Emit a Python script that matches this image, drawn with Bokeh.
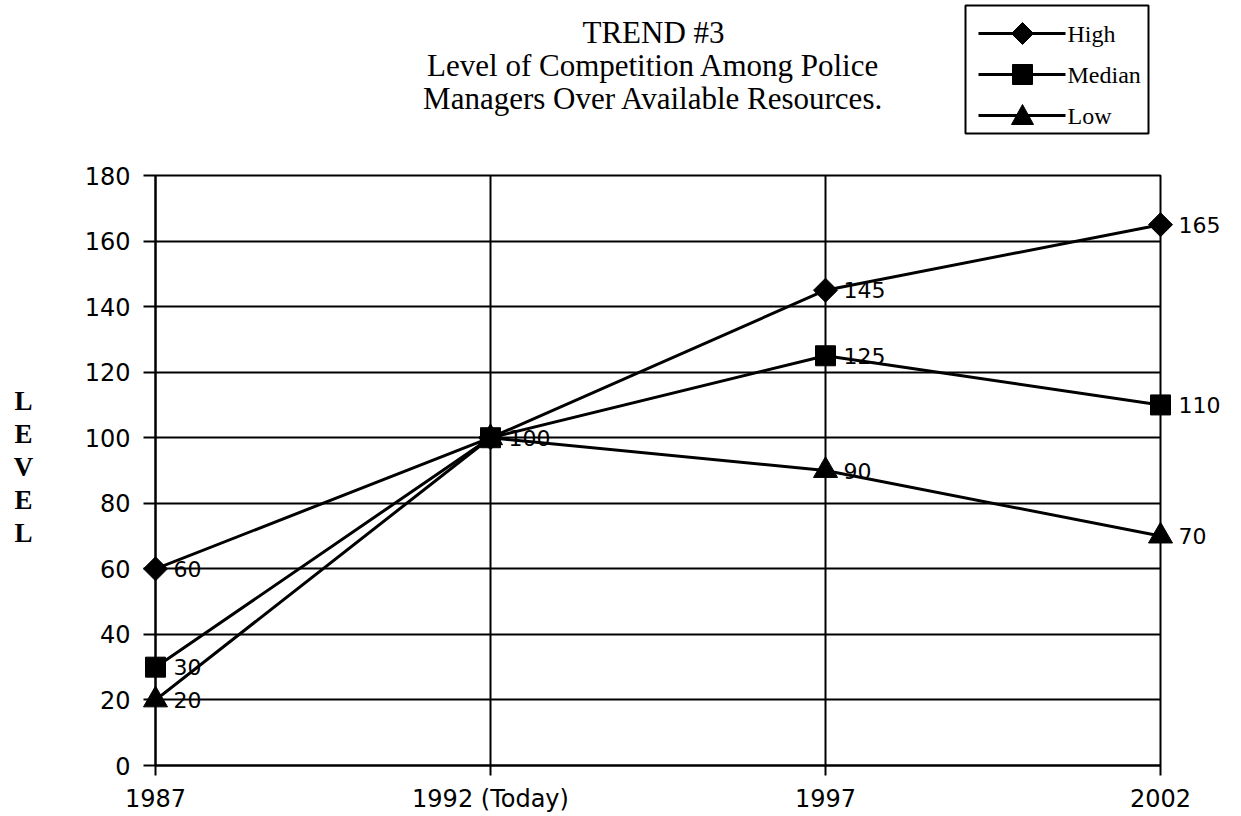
import math
from bokeh.plotting import figure
from bokeh.models import Range1d, FixedTicker, ColumnDataSource
from bokeh.core.properties import value
from bokeh.embed import file_html
from bokeh.resources import INLINE

categories = ["1987", "1992 (Today)", "1997", "2002"]
high = [60, 100, 145, 165]
median = [30, 100, 125, 110]
low = [20, 100, 90, 70]
high_labels = ["60", "100", "145", "165"]
median_labels = ["30", "", "125", "110"]
low_labels = ["20", "", "90", "70"]
y_ticks = list(range(0, 181, 20))
series_names = ["High", "Median", "Low"]
title_lines = ["TREND #3", "Level of Competition Among Police", "Managers Over Available Resources."]
ylabel_letters = ["L", "E", "V", "E", "L"]

W, H = 1241, 816
L_, R_, T_, B_ = 155, 81, 175, 51
xs = list(range(len(categories)))
YMAX = 180
fw = W - L_ - R_
fh = H - T_ - B_

p = figure(width=W, height=H, output_backend="svg", toolbar_location=None,
           x_range=Range1d(0, len(categories) - 1), y_range=Range1d(0, YMAX),
           min_border_left=L_, min_border_right=R_, min_border_top=T_, min_border_bottom=B_)
p.background_fill_color = "white"
p.border_fill_color = "white"
p.outline_line_color = "black"
p.outline_line_width = 2

def dx(px):  # page px -> data x (for free-standing decorations)
    return (px - L_) / fw * (len(categories) - 1)
def dy(py):  # page px -> data y
    return (H - B_ - py) / fh * YMAX

for ax in (p.xaxis[0], p.yaxis[0]):
    ax.axis_line_width = 2
    ax.axis_line_color = "black"
    ax.major_tick_line_width = 2
    ax.major_tick_line_color = "black"
    ax.major_tick_in = 0
    ax.minor_tick_line_color = None
    ax.major_label_text_font = "DejaVu Sans"
    ax.major_label_text_font_size = "24px"
    ax.major_label_text_color = "black"

p.yaxis.ticker = FixedTicker(ticks=y_ticks)
p.yaxis.major_tick_out = 12
p.yaxis.major_label_standoff = 13
p.xaxis.ticker = FixedTicker(ticks=xs)
p.xaxis.major_label_overrides = {i: c for i, c in enumerate(categories)}
p.xaxis.major_tick_out = 10
p.xaxis.major_label_standoff = 9

p.ygrid.ticker = FixedTicker(ticks=y_ticks)
p.xgrid.ticker = FixedTicker(ticks=xs)
for g in (p.xgrid[0], p.ygrid[0]):
    g.grid_line_color = "black"
    g.grid_line_width = 2
    g.grid_line_alpha = 1.0

styles = [("square", 17, math.pi / 4), ("square", 20, 0.0), ("triangle", 24, 0.0)]
for vals, labs, (mk, sz, ang) in zip([high, median, low],
                                      [high_labels, median_labels, low_labels], styles):
    src = ColumnDataSource(dict(x=xs, y=vals, t=labs))
    p.line("x", "y", source=src, line_color="black", line_width=3)
    p.scatter("x", "y", source=src, marker=mk, size=sz, angle=ang, fill_color="black",
              line_color="black", level="overlay")
    p.text("x", "y", text="t", source=src, x_offset=18, text_baseline="middle",
           text_font=value("DejaVu Sans"), text_font_size="22px", text_color="black",
           level="overlay")

# legend box (decoration placed in page pixels)
p.quad(left=[dx(965)], right=[dx(1148)], top=[dy(5)], bottom=[dy(133)],
       fill_color="white", line_color="black", line_width=2, level="overlay")
item_y = [33, 74, 115]
legend_shapes = [
    [(-11, 0), (0, -11), (11, 0), (0, 11)],          # diamond
    [(-10, -10), (10, -10), (10, 10), (-10, 10)],    # square
    [(-11, 9), (0, -11), (11, 9)],                   # triangle
]
cx = 1022
for name, iy, shape in zip(series_names, item_y, legend_shapes):
    p.segment(x0=[dx(978)], y0=[dy(iy)], x1=[dx(1065)], y1=[dy(iy)],
              line_color="black", line_width=3, level="overlay")
    p.patch(x=[dx(cx + ox) for ox, oy in shape], y=[dy(iy + oy) for ox, oy in shape],
            fill_color="black", line_color="black", level="overlay")
    p.text(x=[dx(1067)], y=[dy(iy)], text=[name], text_baseline="middle",
           text_font=value("Liberation Serif"), text_font_size="24px",
           text_color="black", level="overlay")

title_base = [32, 65, 98]
p.text(x=[dx(653)] * 3, y=[dy(b) for b in title_base], text=title_lines,
       text_align="center", text_baseline="alphabetic", text_font=value("Liberation Serif"),
       text_font_size="31px", text_color="black", level="overlay")

p.text(x=[dx(23)] * 5, y=[dy(400 + 33 * i) for i in range(5)], text=ylabel_letters,
       text_align="center", text_baseline="middle", text_font=value("Liberation Serif"),
       text_font_style="bold", text_font_size="27px", text_color="black", level="overlay")

open("out.html", "w").write(file_html(p, INLINE))
